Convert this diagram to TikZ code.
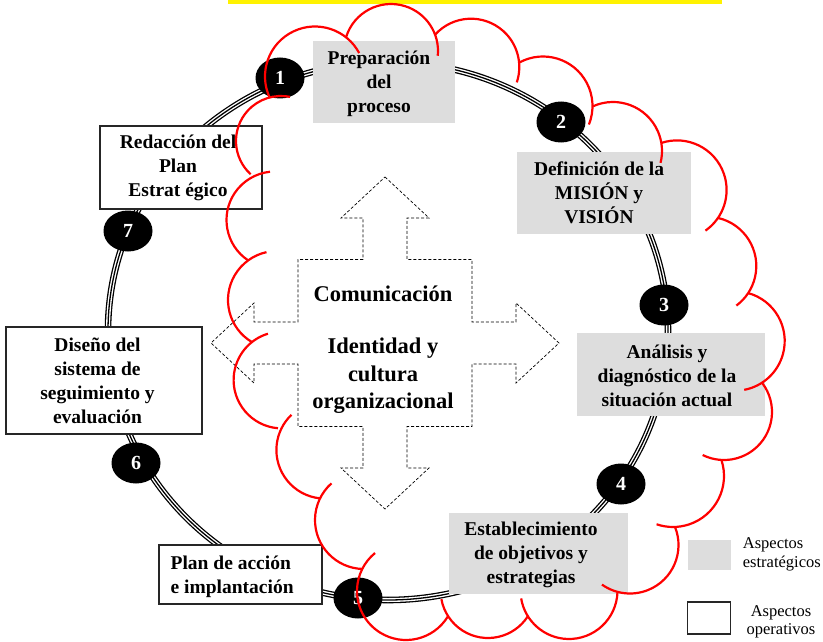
\documentclass[tikz,border=0pt]{standalone}
\usepackage{fontspec}
\setmainfont{Liberation Serif}
\usetikzlibrary{shapes.geometric}

\definecolor{boxgray}{RGB}{221,221,221}

\begin{document}
\begin{tikzpicture}[x=1pt, y=-1pt,
	gbox/.style={fill=boxgray, inner sep=0},
	wbox/.style={draw=black!85, line width=1.1pt, fill=white, inner sep=0},
	btext/.style={font=\bfseries\fontsize{19.5}{24}\selectfont, align=center, inner sep=0},
	ctext/.style={font=\bfseries\fontsize{22.5}{27.5}\selectfont, align=center, inner sep=0},
	legtext/.style={font=\fontsize{16.5}{19.5}\selectfont, inner sep=0},
	numdot/.style={ellipse, fill=black, inner sep=0, minimum width=49, minimum height=41, text=white, font=\bfseries\fontsize{20}{20}\selectfont},
	cloudline/.style={red, line width=2.2pt},
	arrowline/.style={dash pattern=on 3pt off 2pt, line width=0.7pt}]
	\useasboundingbox (0,0) rectangle (823,642);
	\fill[yellow] (228,0) rectangle (722,4);

	\draw[line width=1.3pt, double=white, double distance=4pt] (388,331) ellipse[x radius=280, y radius=269];
	\draw[line width=1.3pt] (388,331) ellipse[x radius=280, y radius=269];

	\draw[arrowline, shift={(385,343)}] (0,-166) -- (44,-125) -- (22,-125) -- (22,-83.5) -- (87,-83.5) -- (87,-21) -- (131,-21) -- (131,-40) -- (174,0)
	  -- (131,40) -- (131,21) -- (87,21) -- (87,83.5) -- (22,83.5) -- (22,125) -- (44,125) -- (0,166) -- (-44,125) -- (-22,125) -- (-22,83.5)
	  -- (-87,83.5) -- (-87,21) -- (-131,21) -- (-131,40) -- (-174,0) -- (-131,-40) -- (-131,-21) -- (-87,-21) -- (-87,-83.5) -- (-22,-83.5)
	  -- (-22,-125) -- (-44,-125) -- cycle;
	\node[ctext, anchor=base] (comun) at (383,301.7) {Comunicación};
	\node[ctext] (ident) at (383,375.7) {Identidad y\\cultura\\organizacional};

	\node[gbox, minimum width=142, minimum height=82] (prep) at (384,82) {};
	\node[btext] (prep-t) at ([xshift=-5,yshift=-2]prep.center) {Preparación\\del\\proceso};
	\node[gbox, minimum width=174, minimum height=82] (mision) at (604,193) {};
	\node[btext] (mision-t) at ([xshift=-5]mision.center) {Definición de la\\MISIÓN y\\VISIÓN};
	\node[gbox, minimum width=188, minimum height=83] (analisis) at (671,374.5) {};
	\node[btext] (analisis-t) at ([xshift=-4,yshift=-1]analisis.center) {Análisis y\\diagnóstico de la\\situación actual};
	\node[gbox, minimum width=179, minimum height=81] (objet) at (538.5,553.5) {};
	\node[btext] (objet-t) at ([xshift=-7.5,yshift=-1]objet.center) {Establecimiento\\de objetivos y\\estrategias};
	\node[wbox, minimum width=163, minimum height=59] (plan) at (240.5,574.5) {};
	\node[btext, align=left, anchor=west] (plan-t) at ([xshift=12,yshift=-2.5]plan.west) {Plan de acción\\e implantación};
	\node[wbox, minimum width=196, minimum height=107] (diseno) at (104,380.5) {};
	\node[btext] (diseno-t) at ([xshift=-6.5]diseno.center) {Diseño del\\sistema de\\seguimiento y\\evaluación};
	\node[wbox, minimum width=162, minimum height=83] (redac) at (181,167.5) {};
	\node[btext] (redac-t) at ([xshift=-3]redac.center) {Redacción del\\Plan\\Estrat égico};

	\node[numdot] (n1) at (280,78) {1};
	\node[numdot] (n2) at (561,122) {2};
	\node[numdot] (n3) at (664,305) {3};
	\node[numdot] (n4) at (621,484) {4};
	\node[numdot] (n5) at (358,598) {5};
	\node[numdot] (n6) at (136,463) {6};
	\node[numdot] (n7) at (128,231) {7};

	\foreach \cx/\cy/\r/\a/\b in {315/76.5/50/-205.4/-28, 391/51/47/-162.8/5.8, 471/67/48.3/-138/18.6, 543/106/49.5/-118/22,
	  613/151/49/-114/14, 677/190/49.6/-108.8/55, 707/266/49.3/-77/53.4, 735/341/49.7/-74.8/79.3, 724/412/48/-37.3/116.4,
	  673/476/51/-18.1/108.8, 630/545/48.5/-21.8/125.3, 569/590.5/48.5/1.8/170.6, 488/590.6/47.4/32.4/169.6, 406/591/49/31.8/230.8,
	  364/520/49/-268.8/-131.5, 325/450/48.6/-264.1/-133.6, 282/380/48.4/-265.2/-106.9, 277/300/49/-239.2/-102.4,
	  275/220/48.5/-235.9/-95.9, 281/141/45/-227.6/-78.6}
	  \draw[cloudline] (\cx,\cy) ++(\a:\r) arc[start angle=\a, end angle=\b, radius=\r];

	\node[gbox, minimum width=43, minimum height=30] (leg-s) at (709.5,555) {};
	\node[wbox, minimum width=43, minimum height=32] (leg-o) at (709,618) {};
	\node[legtext, align=left, anchor=west] (leg-s-t) at (742.7,554.5) {Aspectos\\estratégicos};
	\node[legtext, align=center, font=\fontsize{16.5}{18.5}\selectfont] (leg-o-t) at (781,622) {Aspectos\\operativos};
\end{tikzpicture}
\end{document}
